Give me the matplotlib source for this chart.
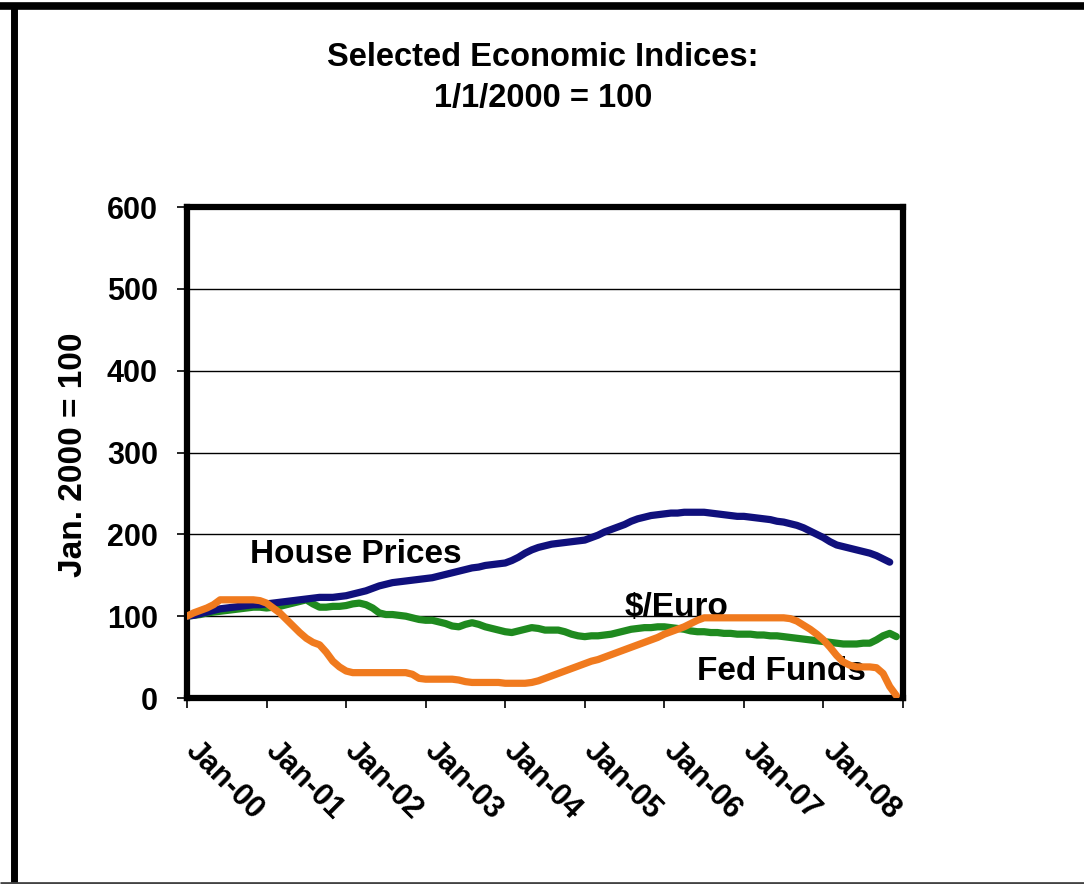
import matplotlib
matplotlib.use("Agg")
import matplotlib.pyplot as plt
import matplotlib.transforms as mtransforms
from matplotlib.lines import Line2D
import numpy as np

# Monthly index values, Jan-2000 = 100
house_prices = [
    100, 101, 103, 105, 107, 109, 110, 111, 112, 113, 114, 114,   # 2000
    115, 116, 117, 118, 119, 120, 121, 122, 123, 123, 123, 124,   # 2001
    125, 127, 129, 131, 134, 137, 139, 141, 142, 143, 144, 145,   # 2002
    146, 147, 149, 151, 153, 155, 157, 159, 160, 162, 163, 164,   # 2003
    165, 168, 172, 177, 181, 184, 186, 188, 189, 190, 191, 192,   # 2004
    193, 196, 199, 203, 206, 209, 212, 216, 219, 221, 223, 224,   # 2005
    225, 226, 226, 227, 227, 227, 227, 226, 225, 224, 223, 222,   # 2006
    222, 221, 220, 219, 218, 216, 215, 213, 211, 208, 204, 200,   # 2007
    196, 191, 187, 185, 183, 181, 179, 177, 174, 170, 166,        # 2008
]

dollar_euro = [
    100, 101, 102, 104, 105, 106, 107, 108, 109, 110, 111, 111,   # 2000
    110, 111, 112, 114, 116, 118, 120, 115, 111, 111, 112, 112,   # 2001
    113, 115, 116, 114, 110, 104, 102, 102, 101, 100, 98, 96,     # 2002
    95, 95, 93, 91, 88, 87, 90, 92, 90, 87, 85, 83,               # 2003
    81, 80, 82, 84, 86, 85, 83, 83, 83, 81, 78, 76,               # 2004
    75, 76, 76, 77, 78, 80, 82, 84, 85, 86, 86, 87,               # 2005
    87, 86, 85, 84, 82, 81, 81, 80, 80, 79, 79, 78,               # 2006
    78, 78, 77, 77, 76, 76, 75, 74, 73, 72, 71, 70,               # 2007
    69, 68, 67, 66, 66, 66, 67, 67, 71, 76, 79, 75,               # 2008
]

fed_funds = [
    100, 104, 107, 110, 114, 120, 120, 120, 120, 120, 120, 119,   # 2000
    116, 110, 104, 96, 88, 80, 73, 68, 65, 56, 45, 38,            # 2001
    33, 31, 31, 31, 31, 31, 31, 31, 31, 31, 29, 24,               # 2002
    23, 23, 23, 23, 23, 22, 20, 19, 19, 19, 19, 19,               # 2003
    18, 18, 18, 18, 19, 21, 24, 27, 30, 33, 36, 39,               # 2004
    42, 45, 47, 50, 53, 56, 59, 62, 65, 68, 71, 74,               # 2005
    78, 81, 84, 87, 91, 95, 98, 98, 98, 98, 98, 98,               # 2006
    98, 98, 98, 98, 98, 98, 98, 97, 94, 89, 84, 78,               # 2007
    71, 62, 52, 44, 40, 38, 38, 38, 37, 30, 14, 3,                # 2008
]

year_labels = ["Jan-00", "Jan-01", "Jan-02", "Jan-03", "Jan-04",
               "Jan-05", "Jan-06", "Jan-07", "Jan-08"]

series_labels = ["House Prices", "$/Euro", "Fed Funds"]

NAVY = "#10107c"
GREEN = "#1f8a1f"
ORANGE = "#f07a1e"

plt.rcParams["font.family"] = ["Liberation Sans", "DejaVu Sans"]

fig = plt.figure(figsize=(10.84, 8.84), dpi=100)
fig.patch.set_facecolor("white")

# Outer frame (open on the right)
fig.add_artist(Line2D([0.0, 1.0], [0.9937, 0.9937], transform=fig.transFigure,
                      color="black", lw=5.5, solid_capstyle="butt"))
fig.add_artist(Line2D([0.0129, 0.0129], [0.0, 0.9937], transform=fig.transFigure,
                      color="black", lw=5.0, solid_capstyle="butt"))
fig.add_artist(Line2D([0.0, 1.0], [0.0015, 0.0015], transform=fig.transFigure,
                      color="#444444", lw=2.0, solid_capstyle="butt"))

ax = fig.add_axes([0.1725, 0.2104, 0.6605, 0.5554])

ax.plot(np.arange(len(dollar_euro)), dollar_euro, color=GREEN, lw=5.2,
        solid_capstyle="round", zorder=3)
ax.plot(np.arange(len(house_prices)), house_prices, color=NAVY, lw=5.2,
        solid_capstyle="round", zorder=4)
ax.plot(np.arange(len(fed_funds)), fed_funds, color=ORANGE, lw=5.2,
        solid_capstyle="round", zorder=5)

ax.set_xlim(0, 108)
ax.set_ylim(0, 600)

ax.set_yticks(np.arange(0, 601, 100))
ax.set_yticklabels([str(v) for v in range(0, 601, 100)],
                   fontsize=22, fontweight="bold")
ax.yaxis.grid(True, color="black", lw=1.0)
ax.set_axisbelow(True)

ax.set_xticks(np.arange(0, 109, 12))
ax.set_xticklabels(year_labels + [""], fontsize=22, fontweight="bold",
                   rotation=-45, ha="left", va="top", rotation_mode="anchor")
ax.tick_params(axis="x", length=7, width=1.2, direction="out", pad=20)
ax.tick_params(axis="y", length=7, width=1.2, direction="out", pad=14)

# nudge the slanted date labels to the right
shift = mtransforms.ScaledTranslation(0.14, 0, fig.dpi_scale_trans)
for lbl in ax.get_xticklabels():
    lbl.set_transform(lbl.get_transform() + shift)

for side in ["left", "right", "top", "bottom"]:
    ax.spines[side].set_linewidth(4.5)
    ax.spines[side].set_color("black")

ax.set_ylabel("Jan. 2000 = 100", fontsize=24, fontweight="bold")
ax.yaxis.set_label_coords(-0.158, 0.495)
ax.yaxis.label.set_va("center")

# Series annotations
ax.text(25.5, 175, series_labels[0], fontsize=24, fontweight="bold",
        ha="center", va="center", zorder=6)
ax.text(73.9, 110, series_labels[1], fontsize=24, fontweight="bold",
        ha="center", va="center", zorder=2)
ax.text(89.7, 32, series_labels[2], fontsize=24, fontweight="bold",
        ha="center", va="center", zorder=4)

fig.text(0.501, 0.935, "Selected Economic Indices:", fontsize=23.5,
         fontweight="bold", ha="center", va="center")
fig.text(0.501, 0.889, "1/1/2000 = 100", fontsize=23.5,
         fontweight="bold", ha="center", va="center")

fig.savefig("out.png", dpi=100, facecolor="white")
